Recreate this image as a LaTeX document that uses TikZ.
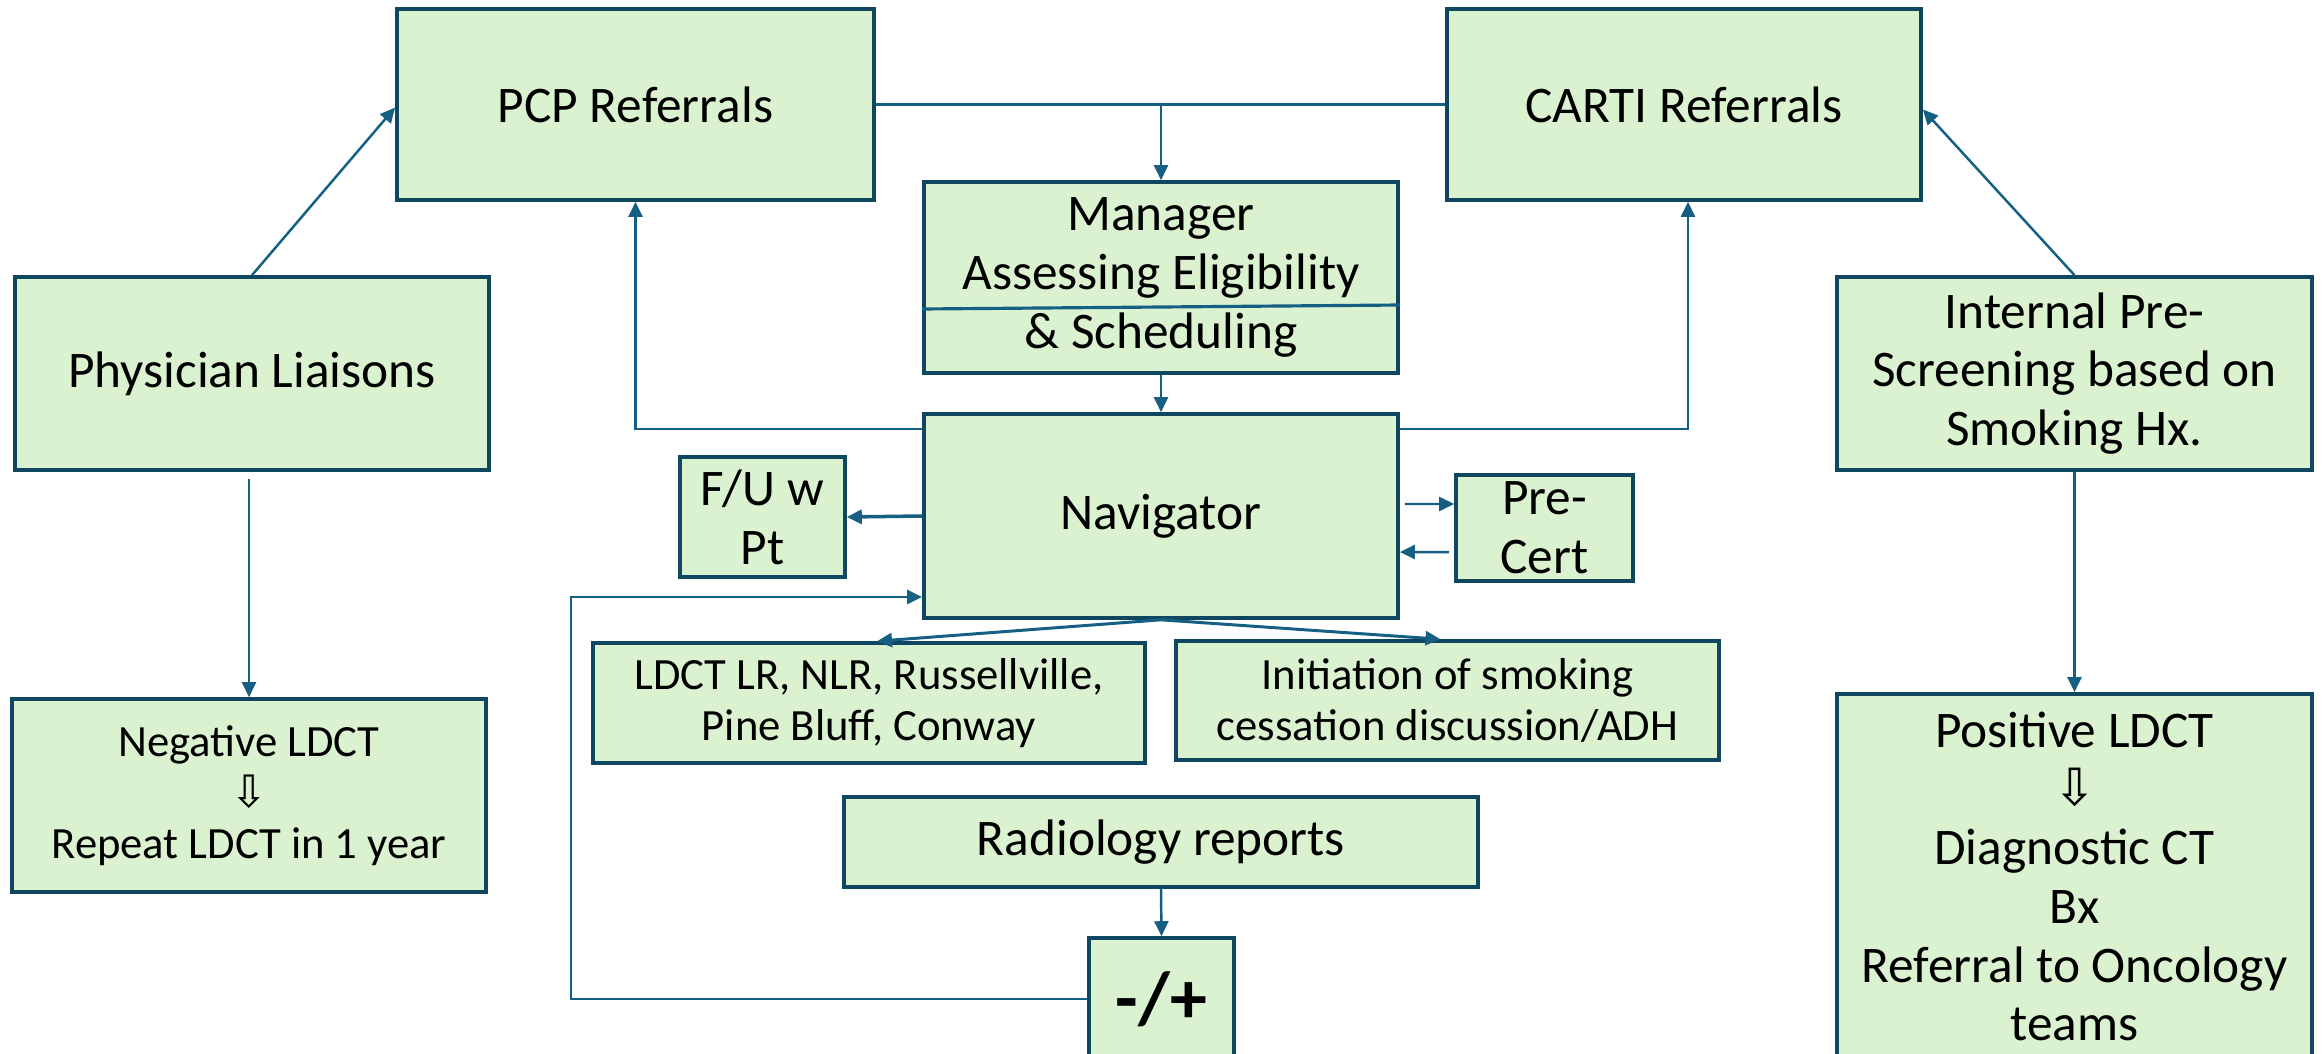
\documentclass[tikz,border=0pt]{standalone}
\usepackage{fontspec}
\setmainfont{Carlito}
\newfontfamily\symfont{DejaVu Sans}
\usetikzlibrary{arrows.meta,calc}
\definecolor{boxfill}{HTML}{DAF2D0}
\definecolor{boxline}{HTML}{0F4761}
\definecolor{conncol}{HTML}{156082}
\begin{document}
\begin{tikzpicture}[x=0.01cm,y=-0.01cm,
  box/.style={draw=boxline, fill=boxfill, line width=1.0pt, align=center, inner sep=2pt,
    font=\fontsize{14.6}{16.7}\selectfont},
  smallbox/.style={box, font=\fontsize{12.7}{14.6}\selectfont},
  conn/.style={draw=conncol, line width=0.7pt, -{Triangle[length=0.15cm,width=0.14cm]}},
  plainline/.style={draw=conncol, line width=0.7pt}]
\useasboundingbox (0,0) rectangle (2323,1054);

% nodes
\node[box, minimum width=4.74cm, minimum height=1.93cm] (phys) at (252,373.5) {Physician Liaisons};
\node[smallbox, minimum width=4.74cm, minimum height=1.93cm] (neg) at (249,795.5)
  {Negative LDCT\\{\symfont ⇩}\\Repeat LDCT in 1 year};
\node[box, minimum width=4.77cm, minimum height=1.91cm] (pcp) at (635.5,104.5) {PCP Referrals};
\node[box, minimum width=4.74cm, minimum height=1.91cm] (carti) at (1684,104.5) {CARTI Referrals};
\node[box, minimum width=4.74cm, minimum height=1.91cm] (mgr) at (1161,277.5)
  {Manager\\Assessing Eligibility\\\& Scheduling};
\node[box, minimum width=4.74cm, minimum height=2.04cm] (nav) at (1161,516) {Navigator};
\node[box, minimum width=1.65cm, minimum height=1.20cm] (fu) at (762.5,517) {F/U w\\Pt};
\node[box, minimum width=1.77cm, minimum height=1.06cm] (pre) at (1544.5,528) {Pre-\\Cert};
\node[smallbox, minimum width=5.52cm, minimum height=1.20cm] (ldct) at (869,703)
  {LDCT LR, NLR, Russellville,\\Pine Bluff, Conway};
\node[smallbox, minimum width=5.43cm, minimum height=1.19cm] (init) at (1447.5,700.5)
  {Initiation of smoking\\cessation discussion/ADH};
\node[box, minimum width=6.34cm, minimum height=0.90cm] (rad) at (1161,842) {Radiology reports};
\node[box, minimum width=1.45cm, minimum height=1.22cm, font=\fontsize{21}{24}\selectfont\bfseries] (pm) at (1161.5,999) {-/+};
\node[box, minimum width=4.75cm, minimum height=1.93cm] (intr) at (2074.5,373.5)
  {Internal Pre-\\Screening based on\\Smoking Hx.};
\node[box, minimum width=4.75cm, minimum height=3.65cm] (pos) at (2074.5,876.5)
  {Positive LDCT\\{\symfont ⇩}\\Diagnostic CT\\Bx\\Referral to Oncology\\teams};

% divider inside manager box
\draw[conncol, line width=0.9pt] ($(mgr.west)+(0,31.5)$) -- ($(mgr.east)+(0,27.5)$);

% connectors
\draw[conn] (phys.north) -- ([yshift=-0.03cm]pcp.west);
\draw[conn] ([yshift=-0.07cm]neg.north |- phys.south) -- (neg.north);
\draw[plainline, line width=1.1pt] (pcp.east) -- (carti.west);
\draw[conn] (mgr.north |- pcp.east) -- (mgr.north);
\draw[conn] (mgr.south) -- (nav.north);
\draw[conn] ([yshift=-0.17cm]nav.north west) -| (pcp.south);
\draw[conn] ([yshift=-0.17cm]nav.north east) -| ([xshift=0.04cm]carti.south);
\draw[conn] (intr.north) -- ([yshift=-0.05cm]carti.east);
\draw[conn] (intr.south) -- (pos.north);
\draw[conn, line width=1pt] (nav.west) -- (fu.east);
\draw[conn] ([xshift=0.05cm,yshift=0.12cm]nav.east) -- ([yshift=0.24cm]pre.west);
\draw[conn] ([xshift=-0.05cm,yshift=-0.24cm]pre.west) -- ([yshift=-0.36cm]nav.east);
\draw[conn, line width=0.85pt] (nav.south) -- ([xshift=0.08cm]ldct.north);
\draw[conn, line width=0.85pt] (nav.south) -- ([xshift=-0.07cm]init.north);
\draw[conn] (rad.south) -- (pm.north);
\coordinate (loop) at (571,597);
\draw[conn] (pm.west) -| (loop) -- (nav.west |- loop);
\end{tikzpicture}
\end{document}
